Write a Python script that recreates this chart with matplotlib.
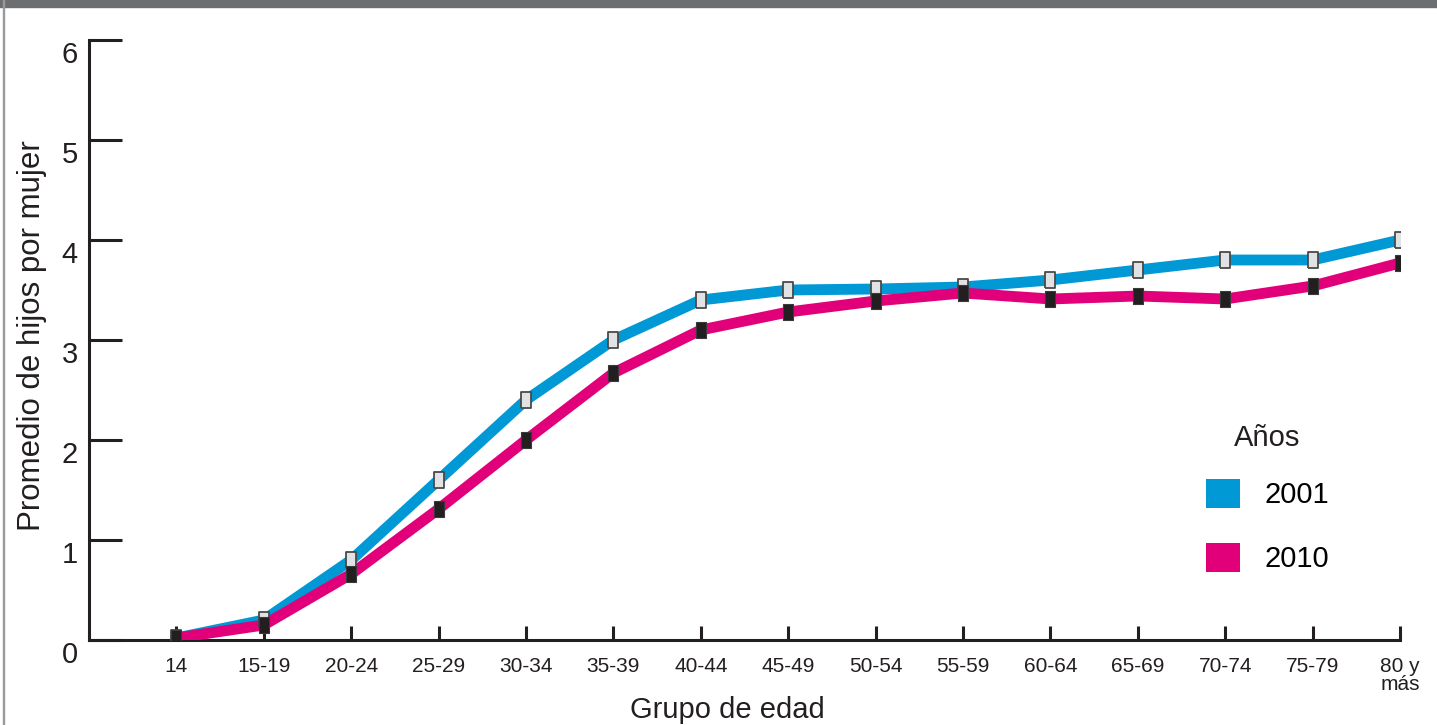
import matplotlib.pyplot as plt
import matplotlib.transforms as mtransforms
from matplotlib.patches import Patch, Rectangle

plt.rcParams['font.family'] = ['Liberation Sans', 'DejaVu Sans']

grupos = ['14', '15-19', '20-24', '25-29', '30-34', '35-39', '40-44', '45-49',
          '50-54', '55-59', '60-64', '65-69', '70-74', '75-79', '80 y\nmás']
hijos_2001 = [0.02, 0.2, 0.8, 1.6, 2.4, 3.0, 3.4, 3.5, 3.51, 3.53, 3.6, 3.7, 3.8, 3.8, 4.0]
hijos_2010 = [0.02, 0.15, 0.66, 1.31, 2.0, 2.67, 3.1, 3.28, 3.39, 3.47, 3.41, 3.44, 3.41, 3.54, 3.77]

azul = '#0098d5'
rosa = '#e2007a'
negro = '#231f20'

fig = plt.figure(figsize=(14.37, 7.25), dpi=100)
ax = fig.add_axes([89 / 1437, 85 / 725, 1311 / 1437, 600 / 725])

x = list(range(len(grupos)))
rect = [(-0.35, -0.5), (0.35, -0.5), (0.35, 0.5), (-0.35, 0.5), (-0.35, -0.5)]

ax.plot(x, hijos_2001, color=azul, lw=7.8, solid_capstyle='butt', zorder=2)
ax.plot(x, hijos_2010, color=rosa, lw=7.8, solid_capstyle='butt', zorder=3)
ax.plot(x, hijos_2001, ls='none', marker=rect, ms=11, mfc='#e1e2e3', mec='#4a4a4a', mew=1.3, zorder=4)
ax.plot(x, hijos_2010, ls='none', marker=rect, ms=11, mfc=negro, mec='#3a3a3a', mew=0.8, zorder=5)

ax.set_xlim(-1, 14)
ax.set_ylim(0, 6)
ax.set_xticks(x)
ax.set_xticklabels(grupos, fontsize=15, color=negro, linespacing=0.95)
ax.set_yticks(range(0, 7))
ax.tick_params(axis='x', direction='in', length=10, width=2.2, color=negro, pad=12)
ax.tick_params(axis='y', direction='in', length=24, width=2.2, color=negro, pad=8,
               labelsize=21, labelcolor=negro)
desplazar = mtransforms.ScaledTranslation(0, -0.12, fig.dpi_scale_trans)
for lbl in ax.get_yticklabels():
    lbl.set_transform(lbl.get_transform() + desplazar)

for lado in ['top', 'right']:
    ax.spines[lado].set_visible(False)
for lado in ['left', 'bottom']:
    ax.spines[lado].set_linewidth(2.2)
    ax.spines[lado].set_color(negro)

ax.set_xlabel('Grupo de edad', fontsize=21, color=negro)
ax.xaxis.set_label_coords(0.487, -0.093)
ax.set_ylabel('Promedio de hijos por mujer', fontsize=22.5, color=negro)
ax.yaxis.set_label_coords(-0.032, 0.508)

handles = [Patch(facecolor=azul, label='2001'), Patch(facecolor=rosa, label='2010')]
fig.legend(handles=handles, loc='upper left',
           bbox_to_anchor=(1206 / 1437, 1 - 479 / 725), frameon=False,
           fontsize=21, handlelength=1.15, handleheight=1.15,
           handletextpad=0.85, labelspacing=1.15, borderpad=0, borderaxespad=0)
fig.text(1267 / 1437, 1 - 438 / 725, 'Años', fontsize=21, color=negro,
         ha='center', va='center')

# marco gris superior e izquierdo
fig.patches.append(Rectangle((0, 1 - 7 / 725), 1, 7 / 725, transform=fig.transFigure,
                             color='#6d6e70', zorder=0))
fig.patches.append(Rectangle((3 / 1437, 0), 1.5 / 1437, 1, transform=fig.transFigure,
                             color='#9a9a9a', zorder=0))

fig.savefig('out.png', dpi=100)
